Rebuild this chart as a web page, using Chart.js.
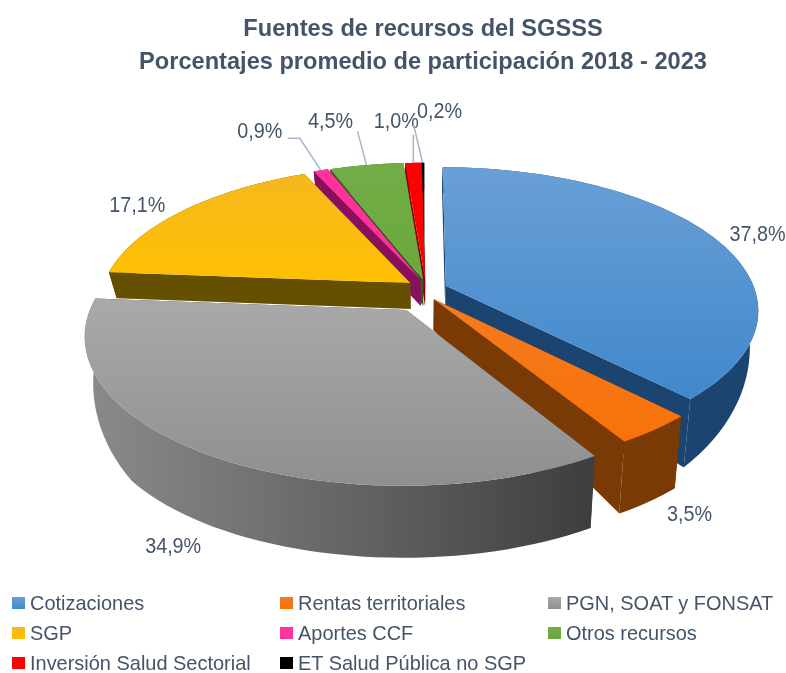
<!DOCTYPE html>
<html>
<head>
<meta charset="utf-8">
<title>Fuentes de recursos del SGSSS</title>
<script src="https://cdn.jsdelivr.net/npm/chart.js@4"></script>
<style>
  html, body { margin: 0; padding: 0; background: #fff; }
  #wrap { position: relative; width: 786px; height: 673px; overflow: hidden; }
  #legend { position: absolute; left: 0; top: 0; }
  #legend div { position: absolute; font: 21px "Liberation Sans", Arial, sans-serif; color: #44546a; white-space: nowrap; line-height: 24px; }
  #legend span { position: absolute; left: 0; top: 6px; width: 13px; height: 12px; }
  #legend b { font-weight: normal; position: absolute; left: 18px; top: 0; transform-origin: 0 0; transform: scaleX(.95); }
</style>
</head>
<body>
<div id="wrap">
  <canvas id="pie" width="786" height="673"></canvas>
  <div id="legend"></div>
</div>
<script>
var categories = ['Cotizaciones', 'Rentas territoriales', 'PGN, SOAT y FONSAT', 'SGP', 'Aportes CCF', 'Otros recursos', 'Inversión Salud Sectorial', 'ET Salud Pública no SGP'];
var shares = [37.8, 3.5, 34.9, 17.1, 0.9, 4.5, 1.0, 0.2];
var shareLabels = ['37,8%', '3,5%', '34,9%', '17,1%', '0,9%', '4,5%', '1,0%', '0,2%'];
var titleLines = ['Fuentes de recursos del SGSSS', 'Porcentajes promedio de participación 2018 - 2023'];

var topColors = ['#4088cc', '#f87208', '#8f8f8f', '#ffc000', '#ff3399', '#69a83c', '#ff0000', '#000000'];
var lightColors = ['#6a9fd6', '#f47a20', '#a9a9a9', '#f5b81f', '#ff3399', '#72ad47', '#ff0000', '#000000'];
var sideColors = ['#1b4570', '#7a3a05', '#444444', '#645000', '#8a0f5c', '#3b5c22', '#8a0000', '#000000'];

// slice separation, share of the radius, and how far it turns from the slice middle (degrees)
var explode = [0.08, 0.075, 0.15, 0.065, 0.075, 0.075, 0.075, 0.075];
var explodeTurn = [0, 10, -11, 15, 16, 13, 8, 4];
// far slices first so the near ones cover them
var drawOrder = [7, 6, 5, 4, 3, 0, 1, 2];
// label shift from the rim point of its slice, and the elbow of its leader
var labelShift = [[44, -2], [35, 85], [-36, 92], [-46, -4], [-61, -38], [-36, -43], [-17, -41], [17, -51]];
var leaders = [null, null, null, null, [-21, -32], [-9, -34], [0, -28], [-9, -38]];

var stretchX = 1.53, stretchY = 0.69, persp = 0.165;

function project(el, theta, rad, ex, dir) {
    var X = rad * Math.sin(theta) + ex * Math.sin(dir);
    var Z = rad * Math.cos(theta) + ex * Math.cos(dir);
    var s = 1 / (1 + persp * Z);
    return {
        x: el.x + el.outerRadius * stretchX * X * s,
        y: el.y - el.outerRadius * stretchY * Z * s,
        z: Z
    };
}

// the base of the pie, the wall gets taller towards the viewer
function lower(el, p) {
    var h = Math.min(72, Math.max(26, 27 - 60 * p.z));
    return { x: el.x + (p.x - el.x) * 0.975, y: p.y + h };
}

function poly(ctx, pts, fill) {
    ctx.beginPath();
    pts.forEach(function (p, i) {
        if (i == 0) ctx.moveTo(p.x, p.y); else ctx.lineTo(p.x, p.y);
    });
    ctx.closePath();
    ctx.fillStyle = fill;
    ctx.fill();
}

var pie3d = {
    id: 'pie3d',
    beforeDatasetsDraw: function (chart) {
        var ctx = chart.ctx;
        var arcs = chart.getDatasetMeta(0).data;

        drawOrder.forEach(function (i) {
            var el = arcs[i];
            var a0 = el.startAngle + Math.PI / 2;
            var a1 = el.endAngle + Math.PI / 2;
            var dir = (a0 + a1) / 2 + explodeTurn[i] * Math.PI / 180;
            var apex = project(el, a0, 0, explode[i], dir);
            var rim = [];
            for (var k = 0; k <= 60; k++) {
                rim.push(project(el, a0 + (a1 - a0) * k / 60, 1, explode[i], dir));
            }
            var first = rim[0], last = rim[rim.length - 1];

            poly(ctx, [apex, first, lower(el, first), lower(el, apex)], sideColors[i]);
            poly(ctx, [apex, last, lower(el, last), lower(el, apex)], sideColors[i]);
            var wall = rim.concat(rim.slice().reverse().map(function (p) { return lower(el, p); }));
            var fillWall = sideColors[i];
            if (i == 2) {
                fillWall = ctx.createLinearGradient(90, 0, 590, 0);
                fillWall.addColorStop(0, '#8a8a8a');
                fillWall.addColorStop(0.5, '#666666');
                fillWall.addColorStop(1, '#3e3e3e');
            }
            poly(ctx, wall, fillWall);

            var ys = rim.map(function (p) { return p.y; }).concat(apex.y);
            var grad = ctx.createLinearGradient(0, Math.min.apply(null, ys), 0, Math.max.apply(null, ys));
            grad.addColorStop(0, lightColors[i]);
            grad.addColorStop(1, topColors[i]);
            poly(ctx, [apex].concat(rim), grad);
        });

        ctx.font = '21.5px "Liberation Sans", Arial, sans-serif';
        ctx.textAlign = 'center';
        ctx.textBaseline = 'middle';
        arcs.forEach(function (el, i) {
            var a0 = el.startAngle + Math.PI / 2;
            var a1 = el.endAngle + Math.PI / 2;
            var mid = (a0 + a1) / 2;
            var p = project(el, mid, 1, explode[i], mid + explodeTurn[i] * Math.PI / 180);
            if (leaders[i]) {
                ctx.strokeStyle = '#a9b6cb';
                ctx.lineWidth = 1.5;
                ctx.beginPath();
                ctx.moveTo(p.x, p.y);
                ctx.lineTo(p.x + leaders[i][0], p.y + leaders[i][1]);
                if (i == 4) ctx.lineTo(p.x + leaders[i][0] - 12, p.y + leaders[i][1]);
                ctx.stroke();
            }
            ctx.save();
            ctx.translate(p.x + labelShift[i][0], p.y + labelShift[i][1]);
            ctx.scale(0.92, 1);
            ctx.fillStyle = '#44546a';
            ctx.fillText(shareLabels[i], 0, 0);
            ctx.restore();
        });
        return false;
    }
};

new Chart(document.getElementById('pie').getContext('2d'), {
    type: 'pie',
    data: {
        labels: categories,
        datasets: [{ data: shares, backgroundColor: topColors, borderWidth: 0 }]
    },
    options: {
        responsive: false,
        animation: false,
        events: [],
        layout: { padding: { left: 60, top: 4, bottom: 181 } },
        plugins: {
            legend: { display: false },
            tooltip: { enabled: false },
            title: {
                display: true,
                text: titleLines,
                color: '#44546a',
                font: { family: '"Liberation Sans", Arial, sans-serif', size: 23.6, weight: 'bold', lineHeight: 1.44 },
                padding: { top: 8, bottom: 8 }
            }
        }
    },
    plugins: [pie3d]
});

// legend in three columns
var colX = [12, 280, 548], rowY = [591, 621, 651];
var legendBox = document.getElementById('legend');
categories.forEach(function (name, i) {
    var row = document.createElement('div');
    row.style.left = colX[i % 3] + 'px';
    row.style.top = rowY[Math.floor(i / 3)] + 'px';
    row.innerHTML = '<span style="background:linear-gradient(' + lightColors[i] + ',' + topColors[i] + ')"></span><b>' + name + '</b>';
    legendBox.appendChild(row);
});
</script>
</body>
</html>
